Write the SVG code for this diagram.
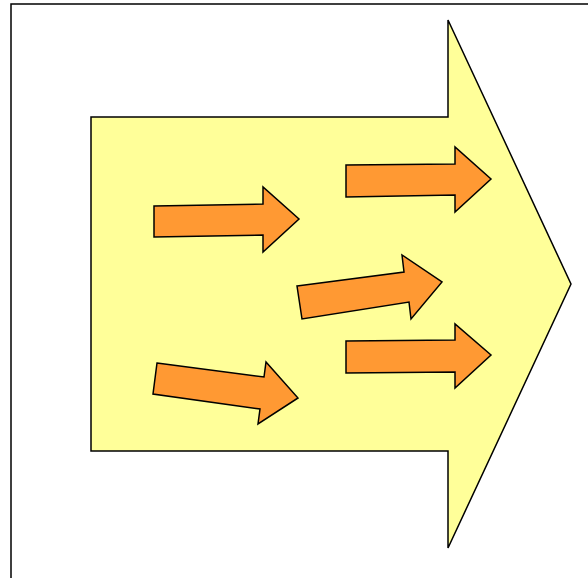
<svg xmlns="http://www.w3.org/2000/svg" width="588" height="578" viewBox="0 0 588 578">
<style>
.frame{fill:#fff;stroke:#000;stroke-width:1.5}
.big{fill:#FFFF99;stroke:#000;stroke-width:1.5;stroke-linejoin:miter}
.small{fill:#FF9933;stroke:#000;stroke-width:1.5;stroke-linejoin:miter}
</style>
<rect width="588" height="578" fill="#fff"/>
<rect class="frame" x="11" y="4" width="620" height="620"/>
<g id="big-arrow">
<polygon class="big" points="91,117 448,117 448,20 571,284 448,548 448,451 91,451"/>
</g>
<g id="arrow1">
<polygon class="small" points="154,206 263,204 263,187 299,219 263,252 263,235 154,237"/>
</g>
<g id="arrow2">
<polygon class="small" points="346,165 455,164 455,147 491,179 455,212 455,195 346,197"/>
</g>
<g id="arrow3">
<polygon class="small" points="297,286 404,272 402,255 442,282 411,319 409,302 302,319"/>
</g>
<g id="arrow4">
<polygon class="small" points="346,341 455,340 455,324 491,355 455,388 455,372 346,373"/>
</g>
<g id="arrow5">
<polygon class="small" points="157,363 264,377 266,362 298,398 258,424 260,409 153,394"/>
</g>
<g id="connectors"></g>
</svg>
